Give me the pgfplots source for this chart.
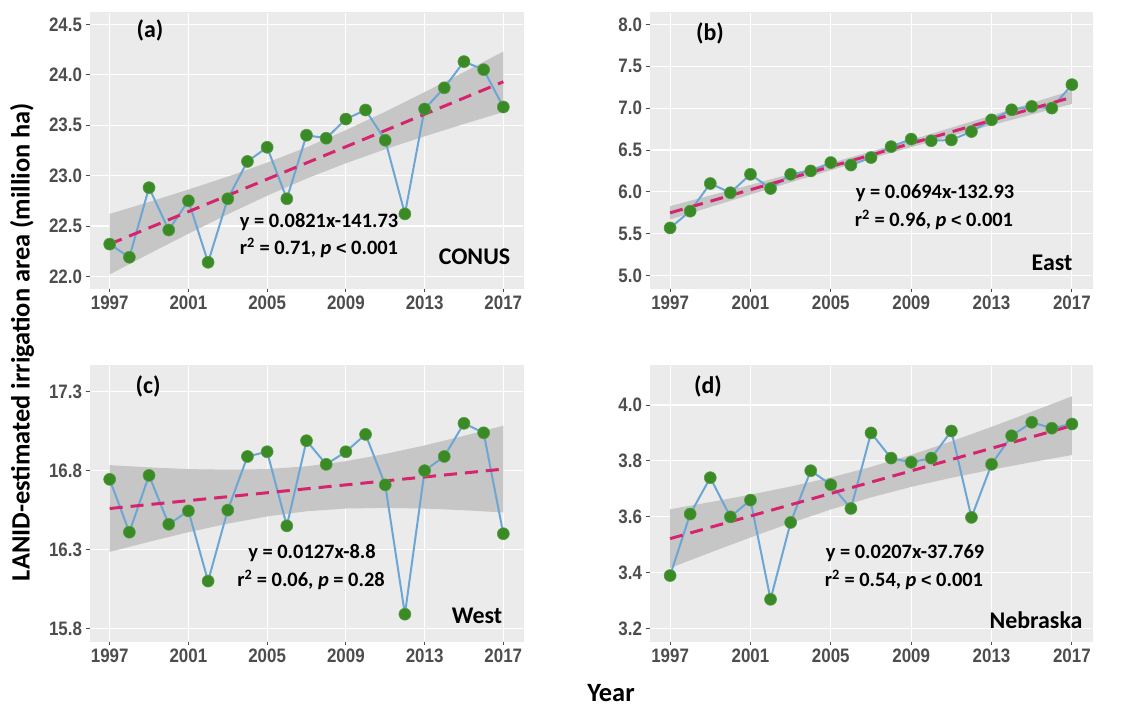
\documentclass[border=0pt]{standalone}
\usepackage{pgfplots}
\usepackage{pgfplotstable}
\usepackage{graphicx}
\pgfplotsset{compat=1.18}
\usepackage{fontspec}
\setmainfont{Liberation Sans}
\newfontfamily\calibri{Carlito}

\definecolor{panelbg}{RGB}{235,235,235}
\definecolor{bandgray}{RGB}{198,198,198}
\definecolor{ticklab}{RGB}{77,77,77}
\definecolor{blueline}{RGB}{108,166,212}
\definecolor{ptgreen}{RGB}{58,138,38}
\definecolor{fitpink}{RGB}{214,36,110}

\pgfplotstableread{
year val
1997 22.32
1998 22.19
1999 22.88
2000 22.46
2001 22.75
2002 22.14
2003 22.77
2004 23.14
2005 23.28
2006 22.77
2007 23.40
2008 23.37
2009 23.56
2010 23.65
2011 23.35
2012 22.62
2013 23.66
2014 23.87
2015 24.13
2016 24.05
2017 23.68
}\conus

\pgfplotstableread{
year val
1997 5.57
1998 5.77
1999 6.10
2000 5.99
2001 6.21
2002 6.04
2003 6.21
2004 6.25
2005 6.35
2006 6.32
2007 6.41
2008 6.54
2009 6.63
2010 6.61
2011 6.62
2012 6.72
2013 6.86
2014 6.98
2015 7.02
2016 7.00
2017 7.28
}\east

\pgfplotstableread{
year val
1997 16.745
1998 16.41
1999 16.77
2000 16.46
2001 16.545
2002 16.10
2003 16.55
2004 16.89
2005 16.92
2006 16.45
2007 16.99
2008 16.84
2009 16.92
2010 17.03
2011 16.71
2012 15.89
2013 16.80
2014 16.89
2015 17.10
2016 17.04
2017 16.40
}\west

\pgfplotstableread{
year val
1997 3.39
1998 3.61
1999 3.74
2000 3.60
2001 3.66
2002 3.305
2003 3.58
2004 3.765
2005 3.715
2006 3.63
2007 3.90
2008 3.81
2009 3.795
2010 3.81
2011 3.907
2012 3.598
2013 3.788
2014 3.89
2015 3.938
2016 3.917
2017 3.932
}\nebraska

\pgfplotsset{
  panel/.style={
    scale only axis,
    height=276bp,
    xmin=1996, xmax=2018,
    xtick={1997,2001,2005,2009,2013,2017},
    axis background/.style={fill=panelbg},
    axis line style={draw=panelbg, line width=0.1bp},
    grid=major,
    major grid style={white, line width=1.1bp},
    tick align=outside,
    major tick length=4.5bp,
    tick style={draw=black!70, line width=0.9bp},
    xtick pos=bottom, ytick pos=left,
    /pgf/number format/assume math mode=true,
    ticklabel style={font=\fontsize{17}{17}\selectfont\bfseries, text=ticklab},
    xticklabel={\scalebox{1}[1.15]{\pgfmathprintnumber[1000 sep={}]{\tick}}},
    yticklabel={\scalebox{1}[1.15]{\pgfmathprintnumber[fixed,fixed zerofill,precision=1]{\tick}}},
  },
  dataline/.style={blueline, line width=2bp},
  datapts/.style={only marks, mark=*, mark size=6bp, mark options={fill=ptgreen, draw=ptgreen!85!white, line width=0.6bp}},
  fitline/.style={fitpink, line width=3bp, dash pattern=on 13bp off 8bp},
  band/.style={fill=bandgray, draw=none},
}

\begin{document}
\begin{tikzpicture}
\path[use as bounding box] (0bp,0bp) rectangle (1146bp,706bp);

% (a) CONUS
\begin{axis}[panel, at={(90bp,418bp)}, anchor=south west, width=433bp,
  ymin=21.885, ymax=24.622, ytick={22.0,22.5,23.0,23.5,24.0,24.5}]
\addplot[band] coordinates {(1997,22.62)(1999,22.738)(2001,22.861)(2003,22.989)(2005,23.128)(2007,23.28)(2009,23.45)(2011,23.633)(2013,23.827)(2015,24.026)(2017,24.23)
 (2017,23.63)(2015,23.512)(2013,23.389)(2011,23.261)(2009,23.122)(2007,22.97)(2005,22.80)(2003,22.617)(2001,22.423)(1999,22.224)(1997,22.02)};
\addplot[dataline] table[x=year,y=val] {\conus};
\addplot[fitline] coordinates {(1997,22.32)(2017,23.93)};
\addplot[datapts] table[x=year,y=val] {\conus};
\end{axis}

% (b) East
\begin{axis}[panel, at={(650bp,418bp)}, anchor=south west, width=442bp,
  ymin=4.853, ymax=8.147, ytick={5.0,5.5,6.0,6.5,7.0,7.5,8.0}]
\addplot[band] coordinates {(1997,5.83)(1999,5.957)(2001,6.084)(2003,6.214)(2005,6.346)(2007,6.481)(2009,6.622)(2011,6.766)(2013,6.912)(2015,7.061)(2017,7.21)
 (2017,7.05)(2015,6.923)(2013,6.796)(2011,6.666)(2009,6.534)(2007,6.399)(2005,6.258)(2003,6.114)(2001,5.968)(1999,5.819)(1997,5.67)};
\addplot[dataline] table[x=year,y=val] {\east};
\addplot[fitline] coordinates {(1997,5.75)(2017,7.13)};
\addplot[datapts] table[x=year,y=val] {\east};
\end{axis}

% (c) West
\begin{axis}[panel, at={(90bp,65bp)}, anchor=south west, width=433bp,
  ymin=15.72, ymax=17.47, ytick={15.8,16.3,16.8,17.3}]
\addplot[band] coordinates {(1997,16.835)(1999,16.821)(2001,16.81)(2003,16.806)(2005,16.81)(2007,16.8275)(2009,16.86)(2011,16.906)(2013,16.96)(2015,17.021)(2017,17.085)
 (2017,16.535)(2015,16.549)(2013,16.56)(2011,16.564)(2009,16.56)(2007,16.5425)(2005,16.51)(2003,16.464)(2001,16.41)(1999,16.349)(1997,16.285)};
\addplot[dataline] table[x=year,y=val] {\west};
\addplot[fitline] coordinates {(1997,16.56)(2017,16.81)};
\addplot[datapts] table[x=year,y=val] {\west};
\end{axis}

% (d) Nebraska
\begin{axis}[panel, at={(650bp,65bp)}, anchor=south west, width=442bp,
  ymin=3.156, ymax=4.143, ytick={3.2,3.4,3.6,3.8,4.0}]
\addplot[band] coordinates {(1997,3.627)(1999,3.6525)(2001,3.6793)(2003,3.7084)(2005,3.7408)(2007,3.7784)(2009,3.8216)(2011,3.87)(2013,3.9217)(2015,3.9757)(2017,4.031)
 (2017,3.821)(2015,3.7955)(2013,3.7687)(2011,3.7396)(2009,3.7072)(2007,3.6696)(2005,3.6264)(2003,3.578)(2001,3.5263)(1999,3.4723)(1997,3.417)};
\addplot[dataline] table[x=year,y=val] {\nebraska};
\addplot[fitline] coordinates {(1997,3.522)(2017,3.926)};
\addplot[datapts] table[x=year,y=val] {\nebraska};
\end{axis}

% panel letters and region names
\begin{scope}[every node/.style={font=\calibri\bfseries\fontsize{24}{24}\selectfont, inner sep=0pt}]
\node at (150bp,676bp) {(a)};
\node at (710bp,673bp) {(b)};
\node at (148bp,320bp) {(c)};
\node at (708bp,320bp) {(d)};
\node at (474.5bp,449bp) {CONUS};
\node at (1052bp,443bp) {East};
\node at (477bp,90bp) {West};
\node at (1036bp,86bp) {Nebraska};
\end{scope}

% equations
\begin{scope}[every node/.style={font=\calibri\bfseries\fontsize{20.5}{20.5}\selectfont, inner sep=0pt}]
\node at (319bp,484bp) {y = 0.0821x-141.73};
\node at (319bp,458bp) {r\textsuperscript{2} = 0.71, \textit{p} {\fontspec{Liberation Sans}\bfseries\fontsize{18}{18}\selectfont <} 0.001};
\node at (935bp,513bp) {y = 0.0694x-132.93};
\node at (934bp,486bp) {r\textsuperscript{2} = 0.96, \textit{p} {\fontspec{Liberation Sans}\bfseries\fontsize{18}{18}\selectfont <} 0.001};
\node at (312bp,153bp) {y = 0.0127x-8.8};
\node at (311bp,126bp) {r\textsuperscript{2} = 0.06, \textit{p} = 0.28};
\node at (905bp,153bp) {y = 0.0207x-37.769};
\node at (904bp,126bp) {r\textsuperscript{2} = 0.54, \textit{p} {\fontspec{Liberation Sans}\bfseries\fontsize{18}{18}\selectfont <} 0.001};
\end{scope}

% axis titles
\node[rotate=90, font=\calibri\bfseries\fontsize{26.5}{26.5}\selectfont, inner sep=0pt] at (22bp,364bp) {LANID-estimated irrigation area (million ha)};
\node[font=\calibri\bfseries\fontsize{26.5}{26.5}\selectfont, inner sep=0pt] at (611bp,13bp) {Year};
\end{tikzpicture}
\end{document}
